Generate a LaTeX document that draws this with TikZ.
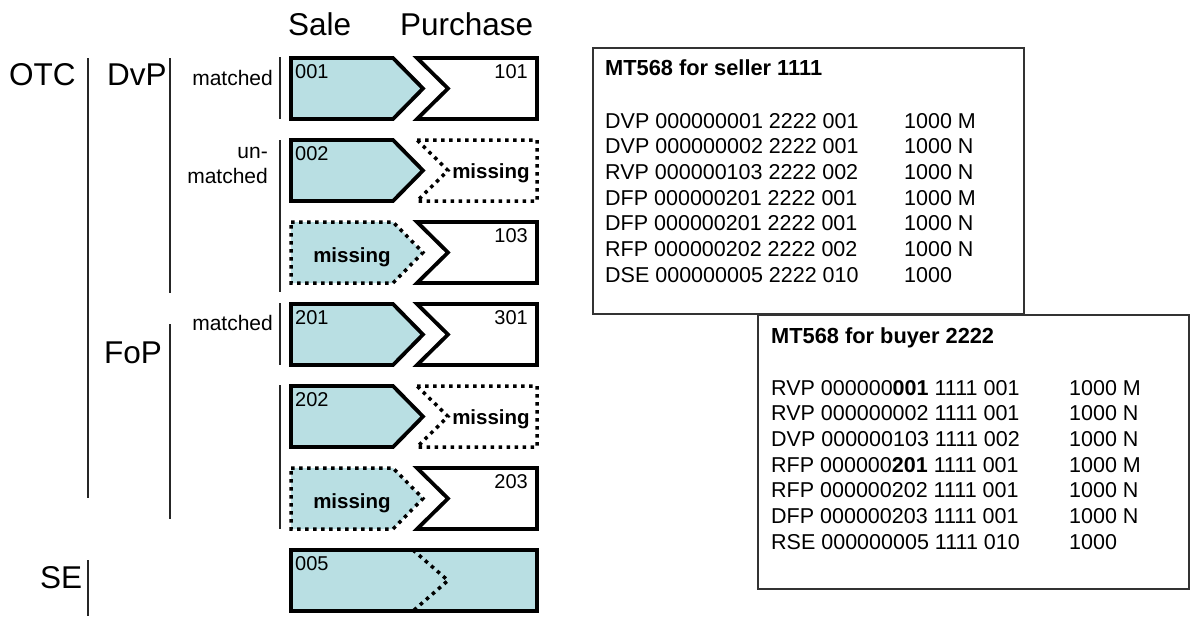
\documentclass[tikz,border=0pt]{standalone}
\usepackage{fontspec}
\setmainfont{Liberation Sans}
\usetikzlibrary{positioning}
\definecolor{saleblue}{RGB}{185,223,227}
\tikzset{
    %Define style for trade shapes
    trade/.style={
           draw=black,
           line width=3.8pt,
           line join=miter},
    missbox/.style={
           draw=black,
           line width=3.5pt,
           dash pattern=on 3.5pt off 4.5pt},
    % Define style for the thin bars
    sepbar/.style={
           draw=black!85,
           line width=1.3pt},
    % Define styles for texts
    biglabel/.style={
           font=\fontsize{31.5}{37}\selectfont,
           inner sep=0pt},
    smalllabel/.style={
           font=\fontsize{21}{25}\selectfont,
           inner sep=0pt,
           align=right},
    refno/.style={
           font=\fontsize{20}{24}\selectfont,
           inner sep=0pt},
    misslabel/.style={
           font=\fontsize{20.5}{24}\selectfont\bfseries,
           inner sep=0pt},
    msgbox/.style={
           rectangle,
           draw=black!80, line width=1.5pt,
           fill=white,
           anchor=north west,
           inner sep=0pt},
    msgtext/.style={
           font=\fontsize{21.5}{25.7}\selectfont,
           inner sep=0pt,
           anchor=base west}
}

\begin{document}
\begin{tikzpicture}[x=1pt, y=-1pt]
 \useasboundingbox (0,0) rectangle (1190,616);
 %headers
    \node[biglabel, anchor=base west] (sale) at (288,35) {Sale};
    \node[biglabel, anchor=base west] (purchase) at (400,35) {Purchase};
    \node[biglabel, anchor=base west] (otc) at (9,85) {OTC};
    \node[biglabel, anchor=base west] (dvp) at (107,85) {DvP};
    \node[biglabel, anchor=base west] (fop) at (104,363) {FoP};
    \node[biglabel, anchor=base west] (se) at (40,588) {SE};
    \node[smalllabel, anchor=base east] (dvpmatched) at (273,85) {matched};
    \node[smalllabel, anchor=base east] (dvpunmatched) at (268,183) {un-\\matched};
    \node[smalllabel, anchor=base east] (fopmatched) at (273,330) {matched};
 %bars
    \draw[sepbar] (88,58) -- (88,498);
    \draw[sepbar] (88,560) -- (88,616);
    \draw[sepbar] (170,58) -- (170,293);
    \draw[sepbar] (170,324) -- (170,519);
    \draw[sepbar] (280,57) -- (280,119);
    \draw[sepbar] (280,140) -- (280,292);
    \draw[sepbar] (280,303) -- (280,365);
    \draw[sepbar] (280,385) -- (280,529);
 %DvP trades
    \draw[trade, fill=saleblue] (291,58) -- (393,58) -- (423,88.5) -- (393,119) -- (291,119) -- cycle;
    \draw[trade] (417,58) -- (537,58) -- (537,119) -- (417,119) -- (448,88.5) -- cycle;
    \draw[trade, fill=saleblue] (291,140) -- (393,140) -- (423,170.5) -- (393,201) -- (291,201) -- cycle;
    \draw[missbox] (417,140) -- (537,140) -- (537,201) -- (417,201) -- (448,170.5) -- cycle;
    \draw[missbox, fill=saleblue] (291,222) -- (393,222) -- (423,252.5) -- (393,283) -- (291,283) -- cycle;
    \draw[trade] (417,222) -- (537,222) -- (537,283) -- (417,283) -- (448,252.5) -- cycle;
 %FoP trades
    \draw[trade, fill=saleblue] (291,304) -- (393,304) -- (423,334.5) -- (393,365) -- (291,365) -- cycle;
    \draw[trade] (417,304) -- (537,304) -- (537,365) -- (417,365) -- (448,334.5) -- cycle;
    \draw[trade, fill=saleblue] (291,386) -- (393,386) -- (423,416.5) -- (393,447) -- (291,447) -- cycle;
    \draw[missbox] (417,386) -- (537,386) -- (537,447) -- (417,447) -- (448,416.5) -- cycle;
    \draw[missbox, fill=saleblue] (291,468) -- (393,468) -- (423,498.5) -- (393,529) -- (291,529) -- cycle;
    \draw[trade] (417,468) -- (537,468) -- (537,529) -- (417,529) -- (448,498.5) -- cycle;
 %SE trade
    \draw[trade, fill=saleblue] (291,550) rectangle (537,611);
    \draw[missbox] (413,550) -- (448,580.5) -- (413,611);
 %trade numbers
    \node[refno, anchor=base west] (s001) at (295,78) {001};
    \node[refno, anchor=base east] (p101) at (528,78) {101};
    \node[refno, anchor=base west] (s002) at (295,160) {002};
    \node[misslabel, anchor=base] (p002) at (491,178) {missing};
    \node[misslabel, anchor=base] (s103) at (352,262) {missing};
    \node[refno, anchor=base east] (p103) at (528,242) {103};
    \node[refno, anchor=base west] (s201) at (295,324) {201};
    \node[refno, anchor=base east] (p301) at (528,324) {301};
    \node[refno, anchor=base west] (s202) at (295,406) {202};
    \node[misslabel, anchor=base] (p202) at (491,424) {missing};
    \node[misslabel, anchor=base] (s203) at (352,508) {missing};
    \node[refno, anchor=base east] (p203) at (528,488) {203};
    \node[refno, anchor=base west] (s005) at (295,570) {005};
 %messages
    \node[msgbox, minimum width=431pt, minimum height=266pt] (seller) at (592,47) {};
    \node[msgtext, font=\fontsize{21.8}{25.7}\selectfont\bfseries] (sellertitle) at (605,75) {MT568 for seller 1111};
    \node[msgtext] (sellerlist) at (605,128) {\begin{tabular}[t]{@{}p{299pt}@{}l@{}}
      DVP 000000001 2222 001 & 1000 M\\
      DVP 000000002 2222 001 & 1000 N\\
      RVP 000000103 2222 002 & 1000 N\\
      DFP 000000201 2222 001 & 1000 M\\
      DFP 000000201 2222 001 & 1000 N\\
      RFP 000000202 2222 002 & 1000 N\\
      DSE 000000005 2222 010 & 1000
    \end{tabular}};
    \node[msgbox, minimum width=431pt, minimum height=274pt] (buyer) at (757,314) {};
    \node[msgtext, font=\fontsize{21.8}{25.7}\selectfont\bfseries] (buyertitle) at (771,343) {MT568 for buyer 2222};
    \node[msgtext] (buyerlist) at (771,395) {\begin{tabular}[t]{@{}p{298pt}@{}l@{}}
      RVP 000000\textbf{001} 1111 001 & 1000 M\\
      RVP 000000002 1111 001 & 1000 N\\
      DVP 000000103 1111 002 & 1000 N\\
      RFP 000000\textbf{201} 1111 001 & 1000 M\\
      RFP 000000202 1111 001 & 1000 N\\
      DFP 000000203 1111 001 & 1000 N\\
      RSE 000000005 1111 010 & 1000
    \end{tabular}};
  \end{tikzpicture}
\end{document}
